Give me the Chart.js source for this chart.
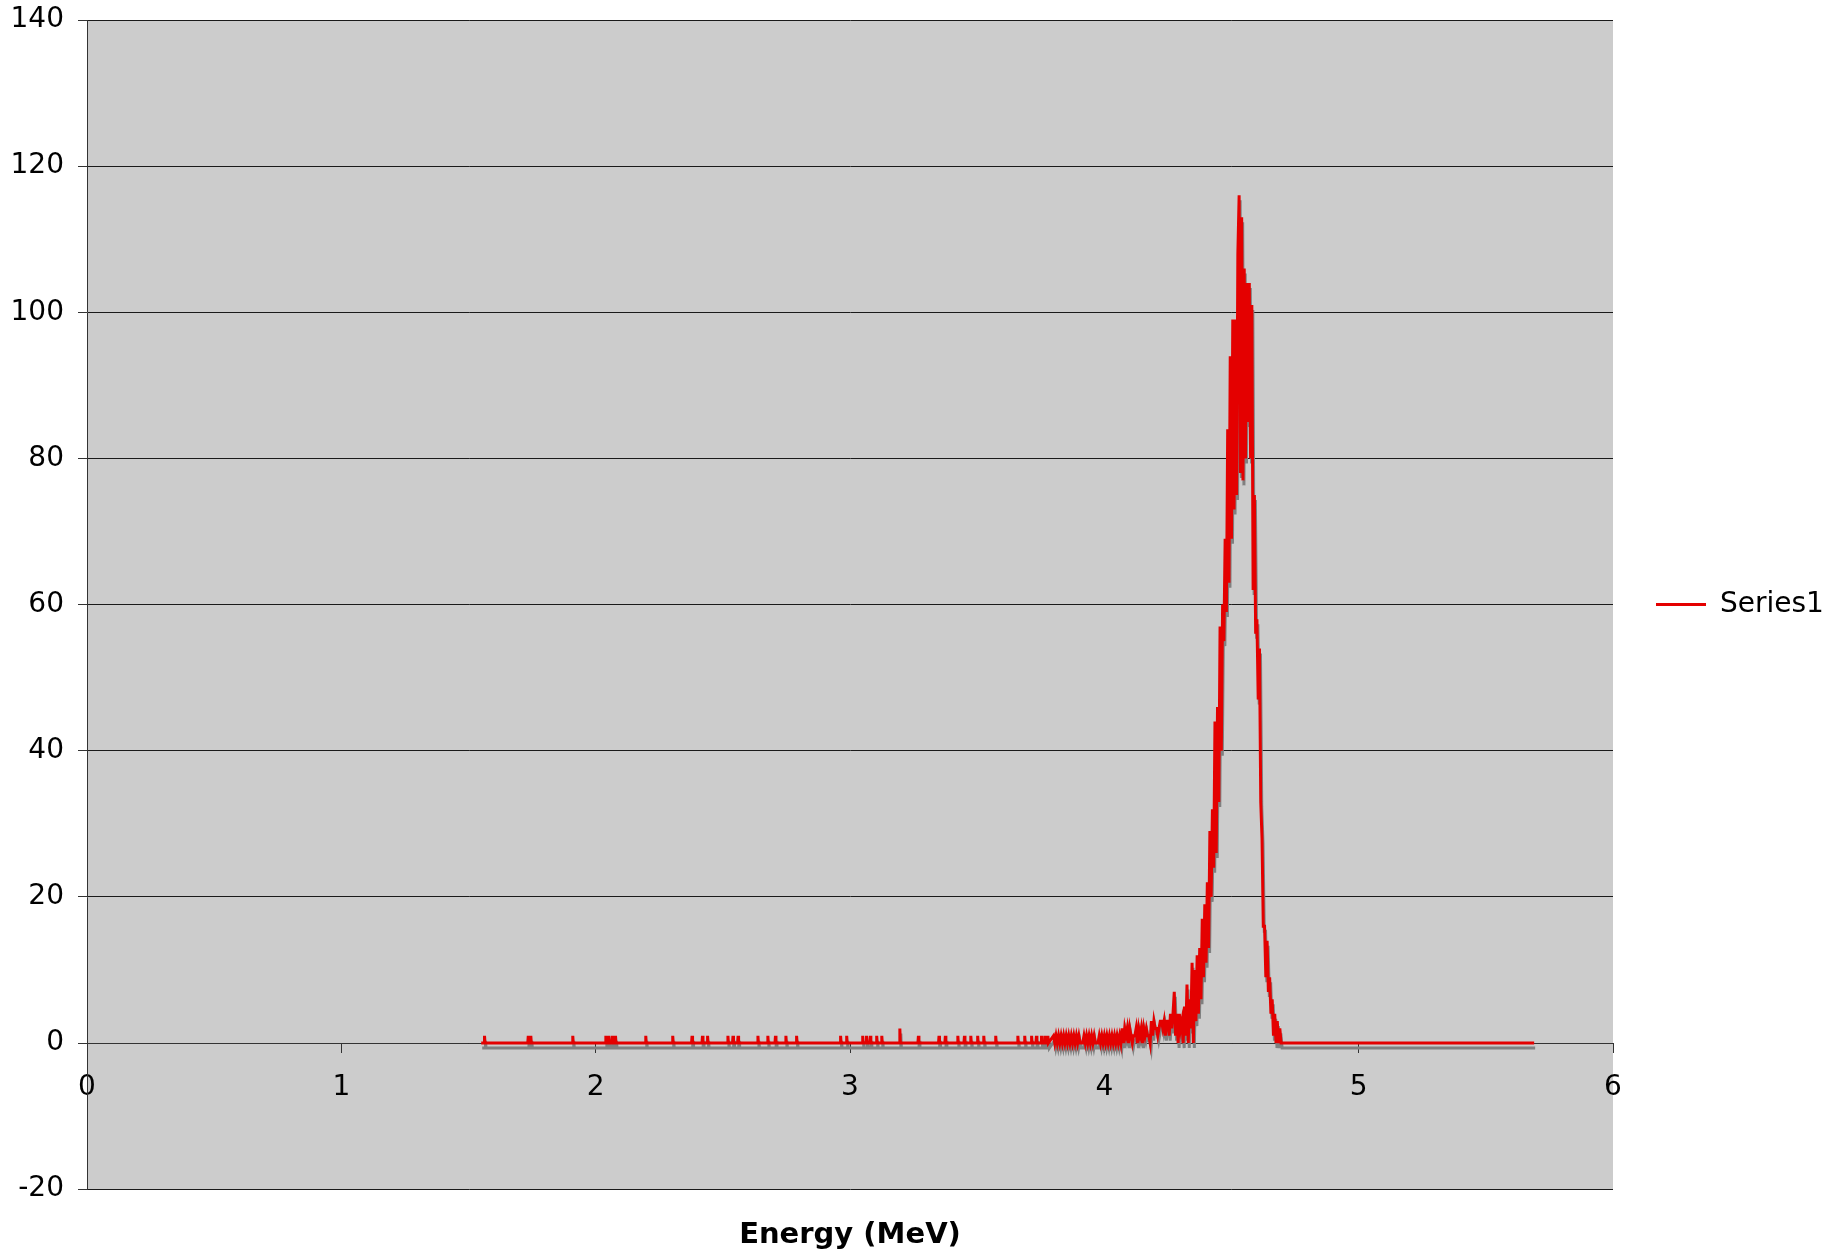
<!DOCTYPE html>
<html>
<head>
<meta charset="utf-8">
<script src="https://cdn.jsdelivr.net/npm/chart.js@4.4.1/dist/chart.umd.min.js"></script>
<style>
  html, body { margin: 0; padding: 0; background: #fff; }
  canvas { display: block; }
</style>
</head>
<body>
<canvas id="myChart" width="1829" height="1256"></canvas>
<script>
const FONT = 'DejaVu Sans';

const seriesName = 'Series1';
const xTitle = 'Energy (MeV)';
const xTicks = [0, 1, 2, 3, 4, 5, 6];
const yTicks = [-20, 0, 20, 40, 60, 80, 100, 120, 140];

// spectrum range (MeV), zero counts outside the listed channels
const startEnergy = 1.55;
const endEnergy = 5.69;
const channelWidth = 0.002;

// isolated channels in the flat part of the spectrum
const spikeEnergy = [1.563, 1.735, 1.745, 1.910, 2.040, 2.052, 2.066, 2.078, 2.197, 2.303,
  2.379, 2.420, 2.440, 2.520, 2.540, 2.560, 2.638, 2.677, 2.707, 2.748, 2.790, 2.963, 2.987,
  3.050, 3.065, 3.080, 3.105, 3.125, 3.196, 3.269, 3.350, 3.375, 3.424, 3.450, 3.475, 3.502,
  3.526, 3.573, 3.660, 3.687, 3.714, 3.733, 3.753, 3.766, 3.778];
const spikeCounts = [1, 1, 1, 1, 1, 1, 1, 1, 1, 1,
  1, 1, 1, 1, 1, 1, 1, 1, 1, 1, 1, 1, 1,
  1, 1, 1, 1, 1, 2, 1, 1, 1, 1, 1, 1, 1,
  1, 1, 1, 1, 1, 1, 1, 1, 1];

// tail and peak channels
const peakEnergy = [
  3.800, 3.805, 3.810, 3.815, 3.820, 3.825, 3.830, 3.835, 3.840, 3.845,
  3.850, 3.855, 3.860, 3.865, 3.870, 3.875, 3.880, 3.885, 3.890, 3.895,
  3.900, 3.905, 3.910, 3.915, 3.920, 3.925, 3.930, 3.935, 3.940, 3.945,
  3.950, 3.955, 3.960, 3.965, 3.970, 3.975, 3.980, 3.985, 3.990, 3.995,
  4.000, 4.005, 4.010, 4.015, 4.020, 4.025, 4.030, 4.035, 4.040, 4.045,
  4.050, 4.055, 4.060, 4.065, 4.070, 4.075, 4.080, 4.085, 4.090, 4.095,
  4.100, 4.105, 4.110, 4.115, 4.120, 4.125, 4.130, 4.135, 4.140, 4.145,
  4.150, 4.155, 4.160, 4.165, 4.170, 4.175, 4.180, 4.185, 4.190, 4.195,
  4.200, 4.205, 4.210, 4.215, 4.220, 4.225, 4.230, 4.235, 4.240, 4.245,
  4.250, 4.255, 4.260, 4.265, 4.270, 4.275, 4.280, 4.285, 4.290, 4.295,
  4.300, 4.305, 4.310, 4.315, 4.320, 4.325, 4.330, 4.335, 4.340, 4.345,
  4.350, 4.355, 4.360, 4.365, 4.370, 4.375, 4.380, 4.385, 4.390, 4.395,
  4.400, 4.405, 4.410, 4.415, 4.420, 4.425, 4.430, 4.435, 4.440, 4.445,
  4.450, 4.455, 4.460, 4.465, 4.470, 4.475, 4.480, 4.485, 4.490, 4.495,
  4.500, 4.505, 4.510, 4.515, 4.520, 4.525, 4.530, 4.535, 4.540, 4.545,
  4.550, 4.555, 4.560, 4.565, 4.570, 4.575, 4.580, 4.585, 4.590, 4.595,
  4.600, 4.605, 4.610, 4.615, 4.620, 4.625, 4.630, 4.635, 4.640, 4.645,
  4.650, 4.655, 4.660, 4.665, 4.670, 4.675, 4.680, 4.685, 4.690, 4.695];
const peakCounts = [
  1, 0, 1, 0, 1, 0, 1, 0, 1, 0,
  1, 0, 1, 0, 1, 0, 1, 0, 1, 0,
  1, 0, 0, 0, 1, 0, 1, 0, 1, 0,
  1, 0, 1, 0, 0, 0, 1, 0, 1, 0,
  1, 0, 1, 0, 1, 0, 1, 0, 1, 0,
  1, 0, 1, 0, 2, 0, 2, 1, 2, 0,
  2, 1, 0, 1, 1, 2, 0, 2, 1, 2,
  0, 2, 1, 2, 1, 1, 0, 3, 1, 3,
  2, 2, 1, 2, 3, 3, 2, 3, 1, 3,
  3, 1, 4, 2, 4, 7, 1, 4, 0, 4,
  2, 3, 0, 5, 1, 8, 0, 6, 2, 11,
  0, 10, 3, 12, 4, 13, 6, 17, 9, 19,
  11, 22, 13, 29, 20, 32, 24, 44, 26, 46,
  33, 57, 40, 60, 55, 69, 59, 84, 63, 94,
  69, 99, 73, 99, 75, 108, 116, 78, 113, 77,
  106, 80, 104, 85, 104, 80, 101, 62, 75, 56,
  58, 47, 54, 33, 28, 16, 16, 9, 14, 7,
  9, 4, 6, 1, 4, 0, 3, 0, 2, 0];

const points = [{ x: startEnergy, y: 0 }];
spikeEnergy.forEach((e, i) => {
  points.push({ x: e - channelWidth, y: 0 });
  points.push({ x: e, y: spikeCounts[i] });
  points.push({ x: e + channelWidth, y: 0 });
});
peakEnergy.forEach((e, i) => points.push({ x: e, y: peakCounts[i] }));
points.push({ x: endEnergy, y: 0 });

const plotBackground = {
  id: 'plotBackground',
  beforeDraw(chart) {
    const { ctx, chartArea } = chart;
    ctx.save();
    ctx.fillStyle = '#cccccc';
    ctx.fillRect(chartArea.left, chartArea.top, chartArea.width, chartArea.height);
    ctx.restore();
  }
};

const lineShadow = {
  id: 'lineShadow',
  beforeDatasetDraw(chart) {
    const ctx = chart.ctx;
    ctx.save();
    ctx.shadowColor = '#808080';
    ctx.shadowOffsetX = 1;
    ctx.shadowOffsetY = 5;
    ctx.shadowBlur = 0;
  },
  afterDatasetDraw(chart) {
    chart.ctx.restore();
  }
};

const ctx = document.getElementById('myChart').getContext('2d');
new Chart(ctx, {
  type: 'line',
  data: {
    datasets: [{
      label: seriesName,
      data: points,
      borderColor: 'rgb(228, 0, 0)',
      backgroundColor: 'rgb(228, 0, 0)',
      borderWidth: 3,
      pointRadius: 0,
      tension: 0,
      fill: false
    }]
  },
  options: {
    responsive: false,
    animation: false,
    devicePixelRatio: 1,
    parsing: false,
    layout: { padding: { top: 20, left: 0, right: 0, bottom: 0 } },
    scales: {
      x: {
        type: 'linear',
        position: { y: 0 },
        min: 0,
        max: 6,
        afterBuildTicks: (axis) => { axis.ticks = xTicks.map(v => ({ value: v })); },
        grid: { drawOnChartArea: false, drawTicks: true, tickLength: 9, color: '#333' },
        border: { display: true, color: '#333', width: 1 },
        ticks: { padding: 19, color: '#000', font: { family: FONT, size: 28 }, maxRotation: 0 }
      },
      y: {
        min: -20,
        max: 140,
        afterBuildTicks: (axis) => { axis.ticks = yTicks.map(v => ({ value: v })); },
        afterFit: (axis) => {
          axis.width = 87;
          axis.paddingTop = 0;
          axis.paddingBottom = 0;
        },
        grid: { color: '#1a1a1a', lineWidth: 1, tickLength: 9, tickColor: '#333' },
        border: { display: true, color: '#333', width: 1 },
        ticks: { padding: 14, color: '#000', font: { family: FONT, size: 28 } }
      }
    },
    plugins: {
      legend: {
        position: 'right',
        fullSize: false,
        maxWidth: 216,
        labels: {
          usePointStyle: true,
          pointStyle: 'line',
          pointStyleWidth: 50,
          boxHeight: 3,
          padding: 43,
          color: '#000',
          font: { family: FONT, size: 28 }
        }
      },
      title: {
        display: true,
        text: xTitle,
        position: 'bottom',
        fullSize: false,
        color: '#000',
        font: { family: FONT, size: 29, weight: 'bold' },
        padding: { top: 29, bottom: 3 }
      },
      tooltip: { enabled: false }
    }
  },
  plugins: [plotBackground, lineShadow]
});
</script>
</body>
</html>
